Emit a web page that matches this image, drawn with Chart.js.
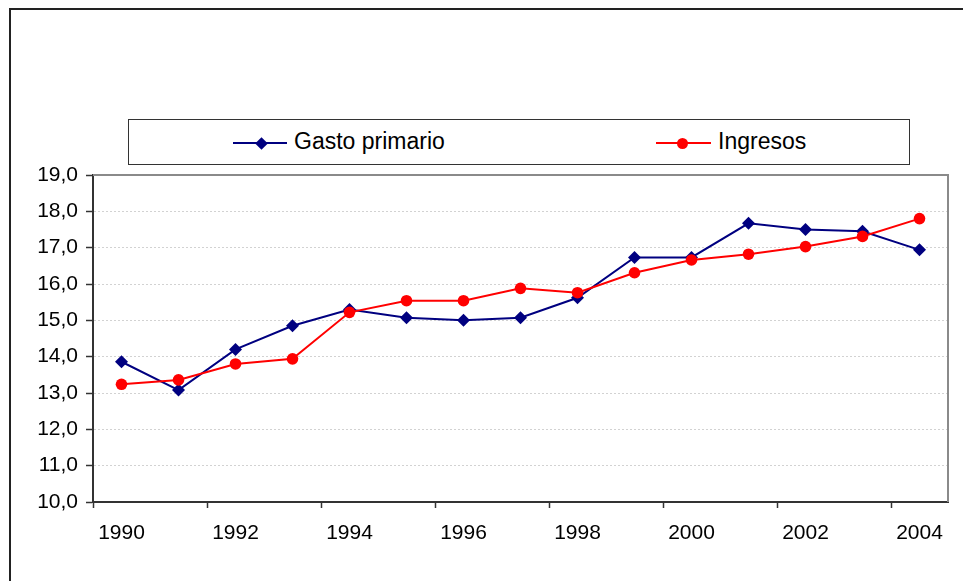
<!DOCTYPE html>
<html>
<head>
<meta charset="utf-8">
<title>Gasto primario e Ingresos</title>
<script src="https://cdn.jsdelivr.net/npm/chart.js@4.4.1/dist/chart.umd.min.js"></script>
<style>
    html, body { margin: 0; padding: 0; background: #fff; overflow: hidden; }
    #wrap { position: relative; width: 963px; height: 581px; }
    #frame {
        position: absolute; left: 9px; top: 8px; width: 1000px; height: 1000px;
        border: 2px solid #222; pointer-events: none;
    }
    #legend {
        position: absolute; left: 128px; top: 119px; width: 782px; height: 46px;
        box-sizing: border-box; border: 1px solid #333; background: #fff;
        font-family: 'Liberation Sans', Arial, sans-serif; font-size: 23px; color: #000;
    }
    .item { position: absolute; top: 0; height: 44px; }
    .item .line { position: absolute; top: 22px; height: 2px; }
    .item .mark { position: absolute; }
    .item .txt { position: absolute; top: 7px; white-space: nowrap; line-height: 28px; }
</style>
</head>
<body>
<div id="wrap">
    <canvas id="chart-gasto" width="963" height="581"></canvas>
    <div id="legend"></div>
    <div id="frame"></div>
</div>
<script>
// Datos (% del PIB)
const years = ['1990', '1991', '1992', '1993', '1994', '1995', '1996', '1997',
               '1998', '1999', '2000', '2001', '2002', '2003', '2004'];
const gastoPrimario = [13.86, 13.08, 14.2, 14.85, 15.3, 15.07, 15.0, 15.07,
                       15.62, 16.73, 16.73, 17.67, 17.5, 17.45, 16.94];
const ingresos = [13.24, 13.36, 13.8, 13.94, 15.22, 15.54, 15.54, 15.88,
                  15.76, 16.31, 16.66, 16.82, 17.03, 17.31, 17.8];
const yMin = 10;
const yMax = 19;
const yStep = 1;

const FONT = "'Liberation Sans', Arial, sans-serif";
Chart.defaults.font.family = FONT;

// borde gris arriba y a la derecha del área de trazado
const plotFrame = {
    id: 'plotFrame',
    beforeDatasetsDraw: (chart) => {
        const a = chart.chartArea;
        const ctx = chart.ctx;
        ctx.save();
        ctx.strokeStyle = '#8a8a8a';
        ctx.lineWidth = 2;
        ctx.beginPath();
        ctx.moveTo(a.left, a.top);
        ctx.lineTo(a.right, a.top);
        ctx.lineTo(a.right, a.bottom);
        ctx.stroke();
        ctx.restore();
    }
};

const chart = new Chart(document.getElementById('chart-gasto'), {
    type: 'line',
    data: {
        labels: years,
        datasets: [
            {
                label: 'Gasto primario',
                data: gastoPrimario,
                borderColor: '#000080',
                backgroundColor: '#000080',
                borderWidth: 2,
                pointStyle: 'rectRot',
                pointRadius: 6.5,
                pointBorderWidth: 0,
                tension: 0,
                order: 1
            },
            {
                label: 'Ingresos',
                data: ingresos,
                borderColor: '#ff0000',
                backgroundColor: '#ff0000',
                borderWidth: 2,
                pointStyle: 'circle',
                pointRadius: 5.8,
                pointBorderWidth: 0,
                tension: 0,
                order: 0
            }
        ]
    },
    options: {
        responsive: false,
        animation: false,
        devicePixelRatio: 1,
        layout: { padding: { top: 175, right: 15, left: 0, bottom: 0 } },
        plugins: {
            legend: { display: false },
            tooltip: { enabled: false }
        },
        scales: {
            x: {
                type: 'category',
                offset: true,
                grid: {
                    offset: true,
                    drawOnChartArea: false,
                    drawTicks: true,
                    tickLength: 6,
                    tickWidth: 1.5,
                    tickColor: (c) => (c.index % 2 === 0 ? '#333' : 'transparent')
                },
                border: { color: '#333', width: 2 },
                ticks: {
                    autoSkip: false,
                    maxRotation: 0,
                    padding: 13,
                    color: '#000',
                    font: { size: 21 },
                    callback: (v, i) => (i % 2 === 0 ? years[i] : '')
                },
                afterFit: (axis) => { axis.height = 79; }
            },
            y: {
                min: yMin,
                max: yMax,
                grid: {
                    color: '#d2d2d2',
                    lineWidth: 1,
                    tickColor: '#333',
                    tickLength: 7,
                    tickWidth: 1.5
                },
                border: { color: '#333', width: 2, dash: [2, 2] },
                ticks: {
                    stepSize: yStep,
                    padding: 8,
                    color: '#000',
                    font: { size: 21 },
                    callback: (v) => Number(v).toFixed(1).replace('.', ',')
                },
                afterFit: (axis) => { axis.width = 93; }
            }
        }
    },
    plugins: [plotFrame]
});

// Leyenda en caja, como en el original
const legendPos = [
    { line: [104, 54], mark: 132, text: 165 },
    { line: [527, 55], mark: 553, text: 589 }
];
const legendEl = document.getElementById('legend');
chart.data.datasets.forEach((ds, i) => {
    const p = legendPos[i];
    const item = document.createElement('div');
    item.className = 'item';
    item.style.left = '0px';
    const isDiamond = ds.pointStyle === 'rectRot';
    const size = isDiamond ? 9 : 11;
    const markStyle = isDiamond
        ? `left:${p.mark - size / 2}px;top:${23 - size / 2}px;width:${size}px;height:${size}px;background:${ds.borderColor};transform:rotate(45deg);`
        : `left:${p.mark - size / 2}px;top:${23 - size / 2}px;width:${size}px;height:${size}px;background:${ds.borderColor};border-radius:50%;`;
    item.innerHTML = `
        <div class="line" style="left:${p.line[0]}px;width:${p.line[1]}px;background:${ds.borderColor};"></div>
        <div class="mark" style="${markStyle}"></div>
        <div class="txt" style="left:${p.text}px;">${ds.label}</div>
    `;
    legendEl.appendChild(item);
});
</script>
</body>
</html>
